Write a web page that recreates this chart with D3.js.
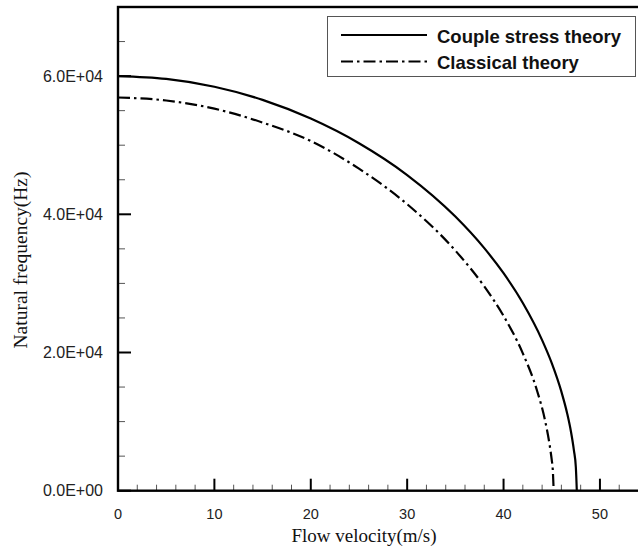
<!DOCTYPE html>
<html>
<head>
<meta charset="utf-8">
<script src="https://cdn.jsdelivr.net/npm/d3@7"></script>
<style>
  html, body { margin: 0; padding: 0; background: #fff; }
  svg { display: block; }
</style>
</head>
<body>
<svg id="chart" width="638" height="550"></svg>
<script>
// ---- data ----
const coupleU = [0, 5, 10, 15, 20, 25, 30, 35, 38, 40, 42, 44, 45, 46, 46.6, 47, 47.3, 47.5, 47.6];
const coupleF = [60000, 59590, 58460, 56560, 53850, 50280, 45680, 39670, 35100, 31470, 27160, 21790, 18460, 14330, 11180, 8500, 5830, 3390, 0];
const classicalU = [0, 5, 10, 15, 20, 25, 30, 35, 38, 40, 42, 43.5, 44.3, 44.8, 45.0, 45.1, 45.2];
const classicalF = [56900, 56470, 55290, 53280, 50600, 46600, 41460, 34750, 29560, 25300, 19880, 14360, 10200, 6450, 4450, 3180, 0];
const seriesNames = ["Couple stress theory", "Classical theory"];
const xTickValues = [0, 10, 20, 30, 40, 50];
const yTickValues = [0, 20000, 40000, 60000];
const yTickLabels = ["0.0E+00", "2.0E+04", "4.0E+04", "6.0E+04"];

// ---- layout ----
const svg = d3.select("#chart");
const pLeft = 118, pRight = 638.5, pTop = 7, pBottom = 490.7;
const x = d3.scaleLinear().domain([0, 54]).range([pLeft, pRight]);
const y = d3.scaleLinear().domain([0, 70000]).range([pBottom, pTop]);

// minor ticks
const xMinor = d3.range(0, 54.01, 2).filter(v => v % 10 !== 0);
const yMinor = d3.range(0, 70001, 5000).filter(v => v % 20000 !== 0);

const g = svg.append("g");

// minor tick marks (inside)
g.selectAll(".xminor").data(xMinor).join("line")
  .attr("x1", d => x(d)).attr("x2", d => x(d))
  .attr("y1", pBottom).attr("y2", pBottom - 6)
  .attr("stroke", "#555").attr("stroke-width", 1);
g.selectAll(".yminor").data(yMinor).join("line")
  .attr("x1", pLeft).attr("x2", pLeft + 7)
  .attr("y1", d => y(d)).attr("y2", d => y(d))
  .attr("stroke", "#555").attr("stroke-width", 1);

// major ticks
g.selectAll(".xmajor").data(xTickValues).join("line")
  .attr("x1", d => x(d)).attr("x2", d => x(d))
  .attr("y1", pBottom).attr("y2", pBottom - 12)
  .attr("stroke", "#000").attr("stroke-width", 2);
g.selectAll(".ymajor").data(yTickValues).join("line")
  .attr("x1", pLeft).attr("x2", pLeft + 13)
  .attr("y1", d => y(d)).attr("y2", d => y(d))
  .attr("stroke", "#000").attr("stroke-width", 2);

// tick labels
g.selectAll(".xlab").data(xTickValues).join("text")
  .attr("x", d => x(d)).attr("y", 519)
  .attr("text-anchor", "middle")
  .attr("font-family", "Liberation Sans, Arial, sans-serif")
  .attr("font-size", 14.5).attr("fill", "#222")
  .text(d => d);
g.selectAll(".ylab").data(yTickValues).join("text")
  .attr("x", 103).attr("y", d => y(d) + 5.5)
  .attr("text-anchor", "end")
  .attr("font-family", "Liberation Sans, Arial, sans-serif")
  .attr("font-size", 16).attr("fill", "#222")
  .text((d, i) => yTickLabels[i]);

// axis titles
svg.append("text")
  .attr("x", 364).attr("y", 541.5)
  .attr("text-anchor", "middle")
  .attr("font-family", "Liberation Serif, Times New Roman, serif")
  .attr("font-size", 19).attr("fill", "#111")
  .text("Flow velocity(m/s)");
svg.append("text")
  .attr("transform", "translate(27,260) rotate(-90)")
  .attr("text-anchor", "middle")
  .attr("font-family", "Liberation Serif, Times New Roman, serif")
  .attr("font-size", 19.5).attr("fill", "#111")
  .text("Natural frequency(Hz)");

// curves
const line = d3.line().x(d => x(d[0])).y(d => y(d[1])).curve(d3.curveMonotoneX);
const couple = coupleU.map((u, i) => [u, coupleF[i]]);
const classical = classicalU.map((u, i) => [u, classicalF[i]]);
svg.append("path").datum(couple).attr("d", line)
  .attr("fill", "none").attr("stroke", "#000").attr("stroke-width", 2.2);
svg.append("path").datum(classical).attr("d", line)
  .attr("fill", "none").attr("stroke", "#000").attr("stroke-width", 2.2)
  .attr("stroke-dasharray", "12,4,2.5,4");

// frame (right side lies just outside the picture, as in the reference)
svg.append("rect")
  .attr("x", pLeft).attr("y", pTop)
  .attr("width", 642 - pLeft).attr("height", pBottom - pTop)
  .attr("fill", "none").attr("stroke", "#000").attr("stroke-width", 2.4);

// legend
const lg = svg.append("g");
lg.append("rect").attr("x", 327.5).attr("y", 16.5).attr("width", 308).attr("height", 60)
  .attr("fill", "#fff").attr("stroke", "#555").attr("stroke-width", 1);
const legRows = [
  { name: seriesNames[0], dash: null, ly: 35, ty: 42.5 },
  { name: seriesNames[1], dash: "12,4,2.5,4", ly: 61.5, ty: 69 }
];
legRows.forEach(r => {
  lg.append("line").attr("x1", 341).attr("x2", 427).attr("y1", r.ly).attr("y2", r.ly)
    .attr("stroke", "#000").attr("stroke-width", 2.2)
    .attr("stroke-dasharray", r.dash);
  lg.append("text").attr("x", 437).attr("y", r.ty)
    .attr("font-family", "Liberation Sans, Arial, sans-serif")
    .attr("font-weight", "bold").attr("font-size", 18.5).attr("fill", "#111")
    .text(r.name);
});
</script>
</body>
</html>
